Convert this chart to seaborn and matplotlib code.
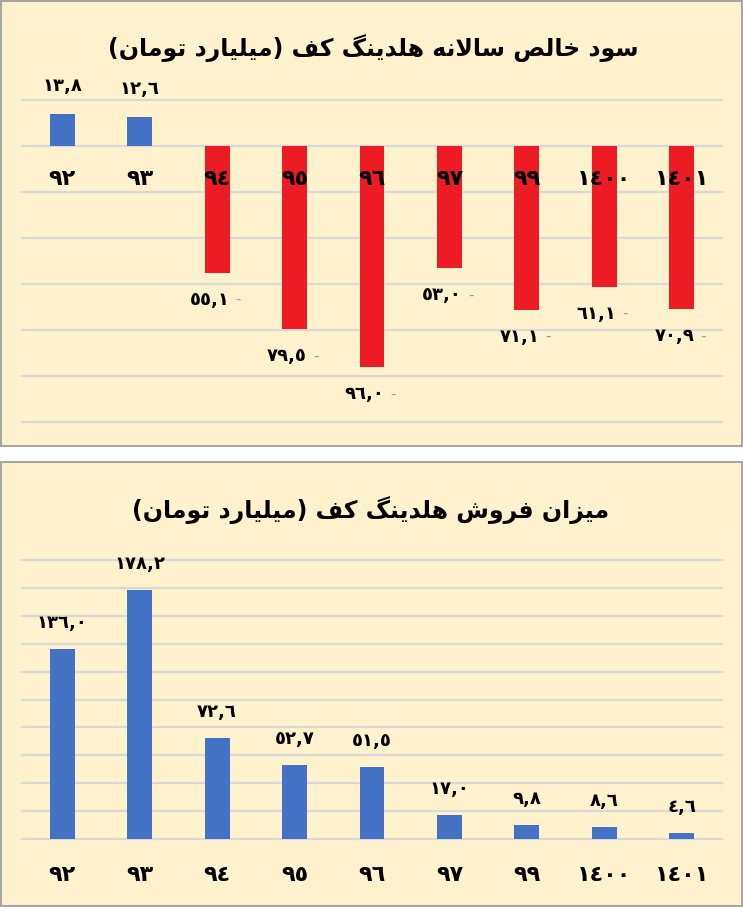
import numpy as np
import pandas as pd
import matplotlib.pyplot as plt
import seaborn as sns
from matplotlib.patches import Rectangle

# -----------------------------
# Data
# -----------------------------
years = [92, 93, 94, 95, 96, 97, 99, 1400, 1401]
profit = [13.8, 12.6, -55.1, -79.5, -96.0, -53.0, -71.1, -61.1, -70.9]
sales = [136.0, 178.2, 72.6, 52.7, 51.5, 17.0, 9.8, 8.6, 4.6]

title_profit = "سود خالص سالانه هلدینگ کف (میلیارد تومان)"
title_sales = "میزان فروش هلدینگ کف (میلیارد تومان)"

BG = "#FFF2CC"
BLUE = "#4472C4"
RED = "#ED1C24"
GRID = "#D9D9D9"

# -----------------------------
# Minimal Persian shaping (matplotlib has no RTL/joining support)
# -----------------------------
FORMS = {
    "ا": ("\uFE8D", "\uFE8E", None, None),
    "ت": ("\uFE95", "\uFE96", "\uFE97", "\uFE98"),
    "خ": ("\uFEA5", "\uFEA6", "\uFEA7", "\uFEA8"),
    "د": ("\uFEA9", "\uFEAA", None, None),
    "ر": ("\uFEAD", "\uFEAE", None, None),
    "ز": ("\uFEAF", "\uFEB0", None, None),
    "س": ("\uFEB1", "\uFEB2", "\uFEB3", "\uFEB4"),
    "ش": ("\uFEB5", "\uFEB6", "\uFEB7", "\uFEB8"),
    "ص": ("\uFEB9", "\uFEBA", "\uFEBB", "\uFEBC"),
    "ف": ("\uFED1", "\uFED2", "\uFED3", "\uFED4"),
    "ل": ("\uFEDD", "\uFEDE", "\uFEDF", "\uFEE0"),
    "م": ("\uFEE1", "\uFEE2", "\uFEE3", "\uFEE4"),
    "ن": ("\uFEE5", "\uFEE6", "\uFEE7", "\uFEE8"),
    "ه": ("\uFEE9", "\uFEEA", "\uFEEB", "\uFEEC"),
    "و": ("\uFEED", "\uFEEE", None, None),
    "ک": ("\uFB8E", "\uFB8F", "\uFB90", "\uFB91"),
    "گ": ("\uFB92", "\uFB93", "\uFB94", "\uFB95"),
    "ی": ("\uFBFC", "\uFBFD", "\uFBFE", "\uFBFF"),
    "\uFEFB": ("\uFEFB", "\uFEFC", None, None),  # lam-alef
}


def shape(text):
    text = text.replace("لا", "\uFEFB")
    out = []
    for i, c in enumerate(text):
        if c not in FORMS:
            out.append(c)
            continue
        prev = text[i - 1] if i > 0 else ""
        nxt = text[i + 1] if i + 1 < len(text) else ""
        join_prev = prev in FORMS and FORMS[prev][2] is not None
        join_next = FORMS[c][2] is not None and nxt in FORMS
        iso, fin, ini, med = FORMS[c]
        if join_prev and join_next:
            out.append(med)
        elif join_prev:
            out.append(fin)
        elif join_next:
            out.append(ini)
        else:
            out.append(iso)
    vis = "".join(reversed(out))
    return vis.translate(str.maketrans("()", ")("))


AR_DIGITS = str.maketrans("0123456789.", "٠١٢٣٤٥٦٧٨٩,")


def ar(v, fmt="{:.1f}"):
    return fmt.format(v).translate(AR_DIGITS)


labels = [ar(y, "{}") for y in years]
df = pd.DataFrame({"year": labels, "profit": profit, "sales": sales})

plt.rcParams["font.family"] = ["DejaVu Sans"]

# -----------------------------
# Figure & panels
# -----------------------------
W, H = 743, 907
fig = plt.figure(figsize=(W / 100, H / 100), dpi=100)
fig.patch.set_facecolor("white")


def panel(top, bottom):
    fig.add_artist(Rectangle((1 / W, 1 - bottom / H), (W - 2) / W, (bottom - top) / H,
                             transform=fig.transFigure, facecolor=BG,
                             edgecolor="#A6A6A6", linewidth=1.5, zorder=0))


def px_axes(left, top, right, bottom):
    return fig.add_axes([left / W, 1 - bottom / H, (right - left) / W, (bottom - top) / H])


panel(1, 446)
panel(462, 906)

ax1 = px_axes(22, 100, 722, 422)
ax2 = px_axes(22, 560, 722, 839)

profit_colors = [BLUE if v > 0 else RED for v in profit]
sns.barplot(data=df, x="year", y="profit", hue="year", palette=profit_colors,
            order=labels, hue_order=labels, width=0.32, saturation=1,
            legend=False, ax=ax1)
sns.barplot(data=df, x="year", y="sales", hue="year", palette=[BLUE] * len(labels),
            order=labels, hue_order=labels, width=0.32, saturation=1,
            legend=False, ax=ax2)

for ax, lo, hi in [(ax1, -120, 20), (ax2, 0, 200)]:
    ax.set_facecolor("none")
    ax.set_ylim(lo, hi)
    ax.set_xlim(-0.52, 8.52)
    ax.set_yticks(np.arange(lo, hi + 1, 20))
    ax.grid(axis="y", color=GRID, linewidth=1.6)
    ax.set_axisbelow(True)
    for s in ax.spines.values():
        s.set_visible(False)
    ax.tick_params(length=0, labelbottom=False, labelleft=False)
    ax.set_xlabel("")
    ax.set_ylabel("")
    for gl in ax.get_ygridlines():
        gl.set_clip_on(False)

num_kw = dict(textcoords="offset pixels", va="center", fontsize=13, fontweight="bold",
              color="black", zorder=6, annotation_clip=False)
cat_kw = dict(textcoords="offset pixels", ha="center", va="center", fontsize=16,
              fontweight="bold", color="black", zorder=6, annotation_clip=False)

# top panel labels
for i, (lbl, v) in enumerate(zip(labels, profit)):
    ax1.annotate(lbl, (i, 0), xytext=(0, -33), **cat_kw)
    if v > 0:
        ax1.annotate(ar(v), (i, v), xytext=(0, 28), ha="center", **num_kw)
    else:
        ax1.annotate(ar(abs(v)), (i + 0.16, v), xytext=(0, -27), ha="right", **num_kw)
        ax1.annotate("-", (i + 0.16, v), xytext=(6, -27), ha="left",
                     textcoords="offset pixels", va="center", fontsize=11,
                     color="#A0A0A0", annotation_clip=False)

# bottom panel labels
for i, (lbl, v) in enumerate(zip(labels, sales)):
    ax2.annotate(lbl, (i, 0), xytext=(0, -36), **cat_kw)
    ax2.annotate(ar(v), (i, v), xytext=(0, 26), ha="center", **num_kw)

fig.text(373 / W, 1 - 48 / H, shape(title_profit), ha="center", va="center",
         fontsize=17, fontweight="bold")
fig.text(371 / W, 1 - 510 / H, shape(title_sales), ha="center", va="center",
         fontsize=17, fontweight="bold")

fig.savefig("out.png", dpi=100)
